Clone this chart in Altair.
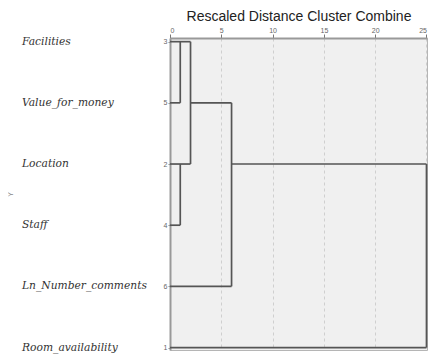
import altair as alt
import pandas as pd

# Leaves, top to bottom, with their case numbers
labels = ["Facilities", "Value_for_money", "Location", "Staff",
          "Ln_Number_comments", "Room_availability"]
case_numbers = ["3", "5", "2", "4", "6", "1"]
rows = [0, 1, 2, 3, 4, 5]

# Dendrogram segments (rescaled distance, row index)
seg_x1 = [0, 0, 1, 0, 0, 1, 2, 2, 6, 0, 6, 25, 0]
seg_x2 = [2, 1, 1, 2, 1, 1, 2, 6, 6, 6, 25, 25, 25]
seg_y1 = [0, 1, 0, 2, 3, 2, 0, 1, 1, 4, 2, 2, 5]
seg_y2 = [0, 1, 1, 2, 3, 3, 2, 1, 4, 4, 2, 5, 5]

tick_values = [0, 5, 10, 15, 20, 25]

segs = pd.DataFrame({"x": seg_x1, "x2": seg_x2, "y": seg_y1, "y2": seg_y2})
leaves = pd.DataFrame({"row": rows, "label": labels})

label_expr = "[" + ",".join("'%s'" % c for c in case_numbers) + "][datum.value]"

xscale = alt.Scale(domain=[0, 25.05], nice=False, zero=False)
yscale = alt.Scale(domain=[-0.06, 5.04], nice=False, zero=False, reverse=True)

xaxis = alt.Axis(orient="top", values=tick_values, title="Rescaled Distance Cluster Combine",
                 titleFont="Liberation Sans", titleFontSize=14, titleFontWeight="normal",
                 titleColor="#222", titlePadding=3,
                 labelFont="Liberation Sans", labelFontSize=7, labelColor="#666", labelPadding=1,
                 tickSize=4, tickColor="#777", domainColor="#999", domainWidth=2,
                 grid=True, gridDash=[3, 3], gridColor="#cfcfcf", gridWidth=1)
yaxis = alt.Axis(orient="left", values=rows, labelExpr=label_expr, title="Y",
                 titleX=-157, titleY=156, titleFontSize=7, titleColor="#888",
                 titleFontWeight="normal", labelFont="Liberation Sans", labelFontSize=7,
                 labelColor="#666", labelPadding=1, tickSize=2, tickColor="#888",
                 domainColor="#999", domainWidth=2, grid=False)

lines = alt.Chart(segs).mark_rule(color="#555", strokeWidth=1.7).encode(
    x=alt.X("x:Q", scale=xscale, axis=xaxis),
    x2="x2:Q",
    y=alt.Y("y:Q", scale=yscale, axis=yaxis),
    y2="y2:Q",
)

names = alt.Chart(leaves).mark_text(
    align="left", baseline="middle", font="DejaVu Serif", fontStyle="italic",
    fontSize=10.7, color="#333"
).encode(
    x=alt.value(-148),
    y=alt.Y("row:Q", scale=yscale),
    text="label:N",
)

chart = alt.layer(lines, names).properties(
    width=257, height=312,
    autosize=alt.AutoSizeParams(type="none"),
    padding={"left": 162, "top": 30, "right": 3, "bottom": 6},
).configure_view(fill="#f0f0f0", stroke="#b5b5b5")

chart.save("out.html", embed_options={"renderer": "svg", "actions": False})
